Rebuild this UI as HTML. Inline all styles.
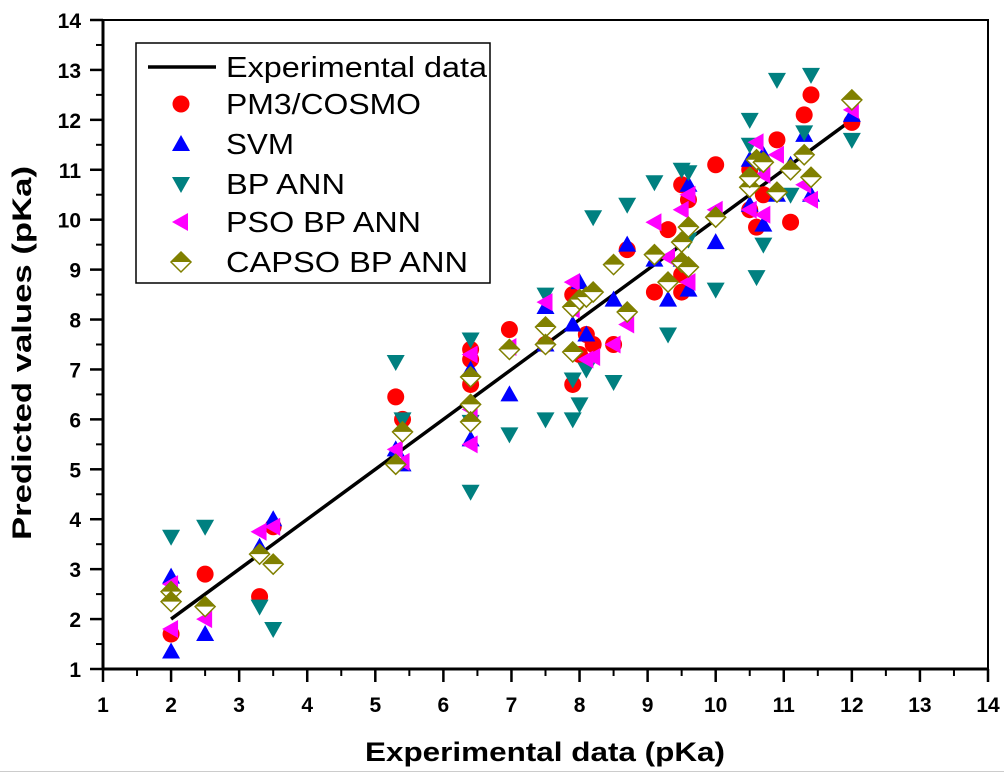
<!DOCTYPE html>
<html><head><meta charset="utf-8"><style>
body{margin:0;background:#fff;}
svg{display:block;font-family:"Liberation Sans",Arial,sans-serif;}
</style></head><body>
<svg id="chart" width="1004" height="773" viewBox="0 0 1004 773">
<rect width="1004" height="773" fill="#fff"/>
<line x1="0" y1="771.5" x2="1004" y2="771.5" stroke="#ccc" stroke-width="1"/>
<g id="marks"></g>
<g id="axes"></g>
<text x="365" y="761" font-size="27" font-weight="bold" textLength="360" lengthAdjust="spacingAndGlyphs">Experimental data (pKa)</text>
<text transform="translate(31,540) rotate(-90)" font-size="27" font-weight="bold" textLength="374" lengthAdjust="spacingAndGlyphs">Predicted values (pKa)</text>
<g id="legend"></g>
</svg>
<script>
const xTicks=[1,2,3,4,5,6,7,8,9,10,11,12,13,14];
const yTicks=[1,2,3,4,5,6,7,8,9,10,11,12,13,14];
const lineData=[[2,2],[12,12]];
const pm3=[[2,1.7],[2.5,2.9],[3.3,2.45],[3.5,3.85],[5.3,6.45],[5.4,6],[6.4,7.4],[6.4,6.7],[6.4,7.2],[6.97,7.8],[7.5,7.5],[7.9,6.7],[7.9,8.5],[8,7.3],[8.1,7.7],[8.2,7.5],[8.5,7.5],[8.7,9.4],[9.1,8.55],[9.3,9.8],[9.5,8.55],[9.5,10.7],[9.6,10.4],[10,11.1],[10.5,10.2],[10.6,9.85],[10.7,10.5],[10.9,11.6],[11.1,9.95],[11.3,12.1],[11.4,12.5],[12,11.95],[10.5,11],[9.5,8.9]];
const svm=[[2,2.85],[2,1.35],[2.5,1.7],[3.3,3.45],[3.5,4],[5.3,5.4],[5.4,5.1],[6.4,7],[6.4,5.6],[6.97,6.5],[7.5,7.5],[7.5,8.25],[7.9,7.9],[8,8.75],[8.1,7.7],[8.5,8.4],[8.7,9.5],[9.1,9.2],[9.3,8.4],[9.5,9.2],[9.6,8.6],[9.6,10.7],[10,9.55],[10.5,11.2],[10.5,10.3],[10.7,9.9],[10.7,11.3],[10.9,10.5],[11.1,11.1],[11.3,11.7],[11.4,10.5],[12,12.1]];
const bpann=[[2,3.65],[2.5,3.85],[3.3,2.25],[3.5,1.8],[5.3,7.15],[5.4,6],[6.4,7.6],[6.4,4.55],[6.4,5.95],[6.97,5.7],[7.5,8.5],[7.5,6],[7.9,6],[7.9,6.8],[8,6.3],[8.1,7],[8.2,10.05],[8.5,6.75],[8.7,10.3],[9.1,10.75],[9.3,7.7],[9.5,11],[9.6,9.6],[10,8.6],[10.5,12],[10.5,11.5],[10.6,8.85],[10.7,9.5],[10.7,11],[10.9,12.8],[11.1,10.5],[11.3,11.75],[11.4,12.9],[12,11.6],[9.6,10.95]];
const pso=[[2,2.7],[2,1.8],[2.5,2],[3.3,3.75],[3.5,3.85],[5.3,5.4],[5.4,5.15],[6.4,7.3],[6.4,6.2],[6.4,5.5],[6.97,7.45],[7.5,8.35],[7.9,8.75],[7.9,8.2],[8.1,7.2],[8.2,7.25],[8.5,7.5],[8.7,7.9],[9.1,9.95],[9.3,9.25],[9.5,10.2],[9.6,10.5],[9.6,8.75],[10,10.2],[10.5,10.2],[10.6,11.55],[10.7,10.9],[10.7,10.1],[10.9,11.3],[11.3,10.7],[11.4,10.4],[12,12.2]];
const capso=[[2,2.55],[2,2.35],[2.5,2.25],[3.3,3.3],[3.5,3.1],[5.3,5.1],[5.4,5.75],[6.4,6.85],[6.4,6.3],[6.4,5.95],[6.97,7.4],[7.5,7.85],[7.5,7.5],[7.9,7.35],[7.9,8.25],[8,8.4],[8.1,8.45],[8.2,8.55],[8.5,9.1],[8.7,8.15],[9.1,9.3],[9.3,8.75],[9.5,9.55],[9.5,9.15],[9.6,9.05],[9.6,9.85],[10,10.05],[10.5,10.65],[10.5,10.85],[10.6,11.2],[10.7,11.15],[10.9,10.55],[11.1,11],[11.3,11.3],[11.4,10.85],[12,12.4]];

const NS="http://www.w3.org/2000/svg";
const X0=103,X1=988,Y0=669,Y1=20;
function sx(v){return X0+(v-1)*(X1-X0)/13;}
function sy(v){return Y0-(v-1)*(Y0-Y1)/13;}
function mk(tag,attrs,parent){const e=document.createElementNS(NS,tag);for(const k in attrs)e.setAttribute(k,attrs[k]);parent.appendChild(e);return e;}
const marks=document.getElementById('marks'),axes=document.getElementById('axes'),leg=document.getElementById('legend');

function drawMarker(type,x,y,g){
  let e;
  if(type==='circle'){e=mk('circle',{cx:x,cy:y,r:8.5,fill:'#ff0000'},g);}
  else if(type==='up'){e=mk('polygon',{points:`${x},${y-9} ${x-9},${y+7} ${x+9},${y+7}`,fill:'#0000ff'},g);}
  else if(type==='down'){e=mk('polygon',{points:`${x},${y+9} ${x-9},${y-7} ${x+9},${y-7}`,fill:'#008080'},g);}
  else if(type==='left'){e=mk('polygon',{points:`${x-9},${y} ${x+7},${y-9} ${x+7},${y+9}`,fill:'#ff00ff'},g);}
  else {
    e=mk('g',{},g);
    mk('polygon',{points:`${x},${y-10} ${x+10},${y} ${x},${y+10} ${x-10},${y}`,fill:'#fff',stroke:'#808000','stroke-width':1.5},e);
    mk('polygon',{points:`${x},${y-10} ${x+10},${y} ${x-10},${y}`,fill:'#808000'},e);
  }
  return e;
}

const ln=mk('line',{x1:sx(lineData[0][0]),y1:sy(lineData[0][1]),x2:sx(lineData[1][0]),y2:sy(lineData[1][1]),stroke:'#000','stroke-width':3.5},marks);



const series=[['pm3-cosmo',pm3,'circle'],['svm',svm,'up'],['bp-ann',bpann,'down'],['pso-bp-ann',pso,'left'],['capso-bp-ann',capso,'diamond']];
series.forEach(([name,data,type])=>{
  const g=mk('g',{},marks);
  
  
  data.forEach(d=>{
    const e=drawMarker(type,sx(d[0]),sy(d[1]),g);
    
    
  });
});

const fr=mk('rect',{x:X0,y:Y1,width:X1-X0,height:Y0-Y1,fill:'none',stroke:'#000','stroke-width':2},axes);


mk('line',{x1:X0-1,y1:Y0,x2:X1+1,y2:Y0,stroke:'#000','stroke-width':3},axes);
mk('line',{x1:X0,y1:Y1-1,x2:X0,y2:Y0+1,stroke:'#000','stroke-width':3},axes);
xTicks.forEach((t,i)=>{
  const x=sx(t);
  mk('line',{x1:x,y1:Y0,x2:x,y2:Y0+13,stroke:'#000','stroke-width':2.5},axes);
  if(i<xTicks.length-1) mk('line',{x1:(x+sx(xTicks[i+1]))/2,y1:Y0,x2:(x+sx(xTicks[i+1]))/2,y2:Y0+7,stroke:'#000','stroke-width':2},axes);
  const tx=mk('text',{x:x,y:Y0+43,'font-size':21,'font-weight':'bold','text-anchor':'middle'},axes);
  tx.textContent=t;
  
  
});
yTicks.forEach((t,i)=>{
  const y=sy(t);
  mk('line',{x1:X0-13,y1:y,x2:X0,y2:y,stroke:'#000','stroke-width':2.5},axes);
  if(i<yTicks.length-1) mk('line',{x1:X0-7,y1:(y+sy(yTicks[i+1]))/2,x2:X0,y2:(y+sy(yTicks[i+1]))/2,stroke:'#000','stroke-width':2},axes);
  const tx=mk('text',{x:X0-22,y:y+8,'font-size':21,'font-weight':'bold','text-anchor':'end'},axes);
  tx.textContent=t;
  
  
});

mk('rect',{x:136,y:43,width:354,height:240,fill:'#fff',stroke:'#000','stroke-width':1.5},leg);
const entries=[['Experimental data','line',261],['PM3/COSMO','circle',195],['SVM','up',68],['BP ANN','down',119],['PSO BP ANN','left',195],['CAPSO BP ANN','diamond',242]];
const ly=[67,104,144,184,222,262];
entries.forEach((en,i)=>{
  const g=mk('g',{},leg);
  
  
  if(en[1]==='line') mk('line',{x1:148,y1:ly[i],x2:216,y2:ly[i],stroke:'#000','stroke-width':3.5},g);
  else drawMarker(en[1],181,ly[i],g);
  const t=mk('text',{x:226,y:ly[i]+10,'font-size':29,textLength:en[2],lengthAdjust:'spacingAndGlyphs'},g);
  t.textContent=en[0];
});
</script>
</body></html>
